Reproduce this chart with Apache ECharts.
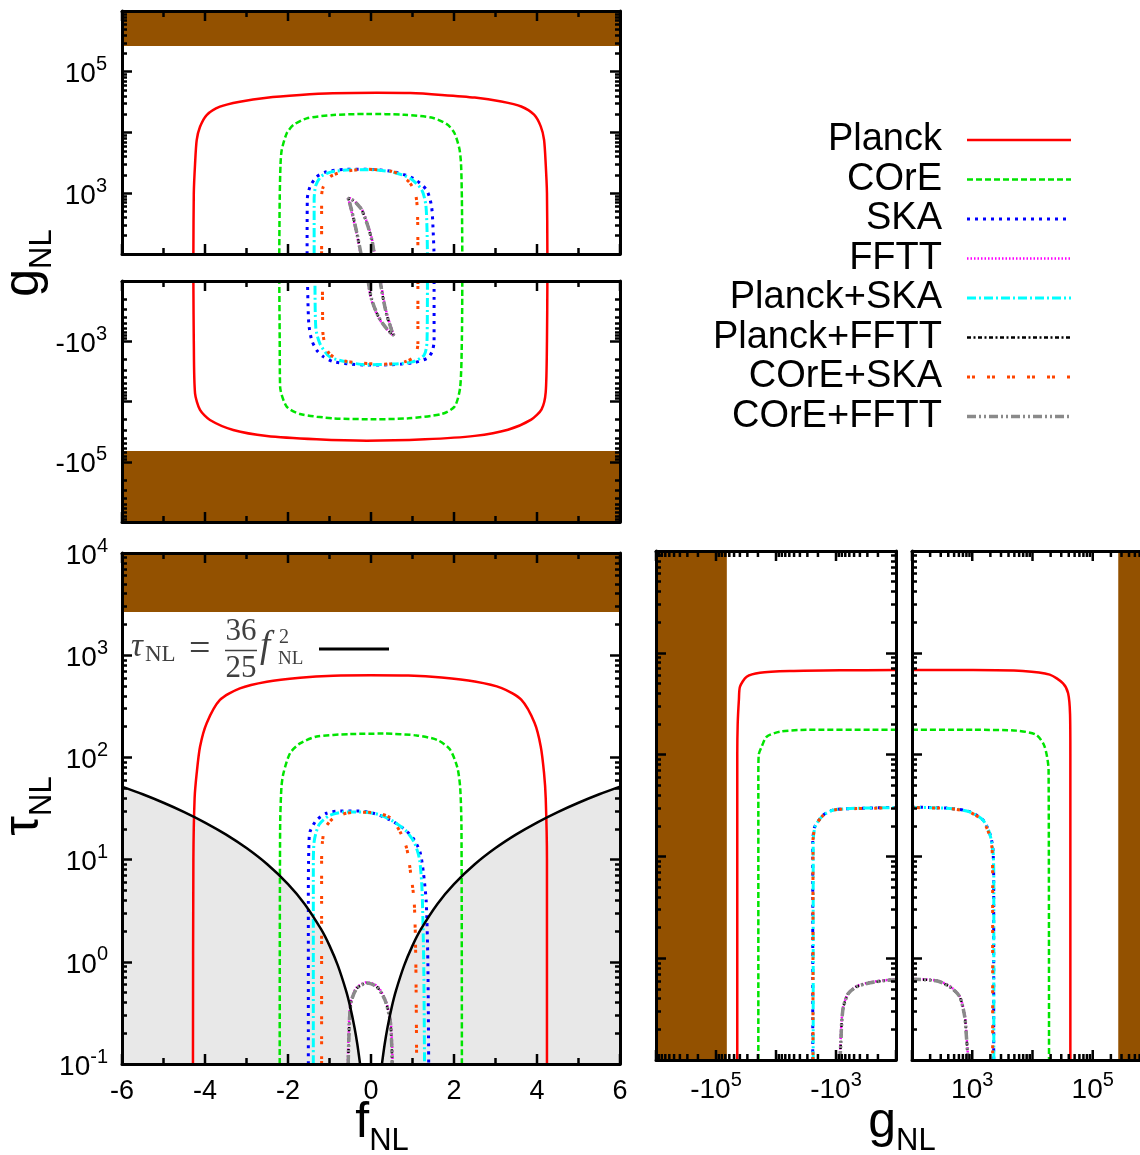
<!DOCTYPE html>
<html>
<head>
<meta charset="utf-8">
<title>fNL, gNL, τNL forecasts</title>
<script src="https://cdn.jsdelivr.net/npm/echarts@6.0.0/dist/echarts.min.js"></script>
<style>
html,body{margin:0;padding:0;background:#fff;overflow:hidden;}
#chart{width:1160px;height:1155px;}
</style>
</head>
<body>
<div id="chart"></div>
<script>
// ---------------- tick values ----------------
const fMajor = [-6, -4, -2, 0, 2, 4, 6];         // fNL ticks with labels
const fMinor = [-5, -3, -1, 1, 3, 5];            // fNL minor ticks
const gDecades = [1e2, 1e3, 1e4, 1e5, 1e6];      // |gNL| decades
const gLabelled = [1e3, 1e5];                    // |gNL| decades carrying a label
const tauDecades = [0.1, 1, 10, 100, 1000, 10000];

// ---------------- excluded regions ----------------
const gNLUpperBound = 2.65e5;   // gNL above this is excluded
const gNLLowerBound = -6.6e4;   // gNL below this is excluded
const tauNLUpperBound = 2650;   // tauNL above this is excluded

// ---------------- fNL–gNL plane: [fNL, gNL] ----------------
const fgPlanck = [
  [-4.28,100],[-4.27,1000],[-4.24,3000],[-4.20,7500],[-4.12,12400],[-3.96,19400],[-3.64,26600],[-3.16,32100],
  [-2.51,37400],[-1.71,41400],[-0.92,44200],[0.14,45200],[0.95,44600],[1.70,41600],[2.50,37600],[3.14,32300],
  [3.62,26800],[3.93,19600],[4.09,12600],[4.17,7600],[4.21,3000],[4.24,1000],[4.25,100],
  [4.25,-100],[4.24,-1000],[4.21,-7000],[4.11,-13500],[3.86,-20000],[3.30,-29400],[2.50,-37200],[1.30,-42400],
  [-0.10,-44800],[-1.31,-42400],[-2.51,-37400],[-3.32,-29700],[-3.88,-20300],[-4.12,-13800],[-4.24,-7300],
  [-4.27,-1000],[-4.28,-100]
];
const fgCOrE = [
  [-2.21,100],[-2.20,800],[-2.18,3000],[-2.15,5200],[-2.03,9700],[-1.87,13300],[-1.55,17100],[-0.91,19400],
  [-0.10,20200],[0.80,19600],[1.50,17300],[1.84,13500],[2.01,9800],[2.13,5400],[2.17,3000],[2.19,800],[2.20,100],
  [2.20,-100],[2.19,-900],[2.15,-5700],[2.02,-12000],[1.72,-16000],[0.90,-19000],[0.10,-19700],[-0.91,-19000],
  [-1.71,-16100],[-2.03,-12200],[-2.19,-5700],[-2.20,-900],[-2.21,-100]
];
const fgSKA = [
  [-1.54,100],[-1.535,800],[-1.47,1280],[-1.31,1870],[-1.07,2260],[-0.59,2480],[-0.10,2480],[0.54,2260],
  [1.02,1760],[1.34,1130],[1.46,600],[1.50,220],[1.52,100],
  [1.52,-100],[1.52,-1000],[1.47,-1500],[1.36,-1900],[1.05,-2250],[0.50,-2450],[-0.10,-2480],[-0.51,-2390],
  [-0.91,-2180],[-1.15,-1800],[-1.31,-1400],[-1.43,-950],[-1.50,-500],[-1.53,-100]
];
const fgFFTT = [
  [-0.25,100],[-0.35,220],[-0.44,410],[-0.52,690],[-0.56,845],[-0.50,820],[-0.42,760],[-0.32,660],[-0.21,530],
  [-0.06,281],[0.03,170],[0.08,110],[0.09,100],
  [-0.08,-100],[0.01,-207],[0.17,-392],[0.33,-573],[0.50,-770],[0.56,-810],[0.52,-700],[0.48,-573],[0.40,-392],
  [0.31,-207],[0.23,-100]
];
const fgPlanckSKA = [
  [-1.37,100],[-1.37,800],[-1.33,1350],[-1.20,1900],[-0.95,2250],[-0.50,2430],[-0.10,2450],[0.50,2250],
  [0.95,1750],[1.22,1150],[1.32,650],[1.35,250],[1.36,100],
  [1.36,-100],[1.35,-1000],[1.28,-1700],[1.00,-2200],[0.50,-2400],[-0.10,-2450],[-0.60,-2200],[-1.00,-1800],
  [-1.23,-1100],[-1.33,-600],[-1.35,-100]
];
const fgPlanckFFTT = [
  [-0.24,100],[-0.34,220],[-0.43,410],[-0.51,680],[-0.55,830],[-0.50,810],[-0.43,760],[-0.33,660],[-0.22,530],
  [-0.07,281],[0.02,170],[0.07,110],[0.08,100],
  [-0.07,-100],[0.02,-207],[0.18,-392],[0.34,-573],[0.50,-760],[0.55,-800],[0.51,-700],[0.47,-573],[0.39,-392],
  [0.30,-207],[0.22,-100]
];
const fgCOrESKA = [
  [-1.19,100],[-1.19,900],[-1.15,1280],[-0.99,1870],[-0.67,2260],[-0.10,2480],[0.50,2300],[0.70,2000],
  [0.93,1500],[1.07,1000],[1.12,500],[1.13,100],
  [1.13,-100],[1.13,-1100],[1.05,-1800],[0.80,-2200],[0.30,-2400],[-0.25,-2300],[-0.75,-2050],[-0.99,-1650],
  [-1.10,-1200],[-1.16,-700],[-1.17,-100]
];
const fgCOrEFFTT = [
  [-0.24,100],[-0.34,220],[-0.43,410],[-0.51,680],[-0.55,830],[-0.50,810],[-0.43,760],[-0.33,660],[-0.22,530],
  [-0.07,281],[0.02,170],[0.07,110],[0.08,100],
  [-0.07,-100],[0.02,-207],[0.18,-392],[0.34,-573],[0.50,-760],[0.55,-800],[0.51,-700],[0.47,-573],[0.39,-392],
  [0.30,-207],[0.22,-100]
];

// ---------------- fNL–tauNL plane: [fNL, tauNL] ----------------
const ftPlanck = [
  [-4.29,0.1],[-4.28,10],[-4.25,40],[-4.20,70],[-4.12,127],[-3.96,216],[-3.64,365],[-3.16,474],[-2.51,551],
  [-1.71,603],[-0.91,631],[0.00,638],[0.90,632],[1.70,604],[2.50,552],[3.15,476],[3.62,367],[3.94,218],
  [4.09,128],[4.17,70],[4.21,40],[4.24,10],[4.24,0.1]
];
const ftCOrE = [
  [-2.20,0.1],[-2.19,20],[-2.16,50],[-2.11,70],[-1.95,110],[-1.71,137],[-1.31,160],[-0.51,169],[0.30,171],
  [1.10,164],[1.60,148],[1.90,120],[2.08,80],[2.15,50],[2.18,20],[2.19,0.1]
];
const ftSKA = [
  [-1.51,0.1],[-1.51,5],[-1.50,12],[-1.47,18.7],[-1.31,24.4],[-1.07,28.4],[-0.75,29.9],[-0.34,29.9],[0.06,28.4],
  [0.46,24.4],[0.78,20.2],[1.02,16.1],[1.18,11.9],[1.26,7.6],[1.33,3.9],[1.37,1],[1.39,0.1]
];
const ftFFTT = [
  [-0.56,0.1],[-0.54,0.2],[-0.52,0.31],[-0.48,0.42],[-0.35,0.56],[-0.10,0.63],[0.15,0.58],[0.35,0.42],
  [0.47,0.27],[0.51,0.15],[0.52,0.1]
];
const ftPlanckSKA = [
  [-1.39,0.1],[-1.39,8],[-1.37,15],[-1.25,22],[-1.00,27],[-0.60,29.3],[-0.20,29.3],[0.20,27.5],[0.55,23.5],
  [0.85,19],[1.05,14.5],[1.17,10],[1.23,5],[1.27,1],[1.29,0.1]
];
const ftPlanckFFTT = [
  [-0.55,0.1],[-0.53,0.2],[-0.51,0.31],[-0.47,0.42],[-0.34,0.55],[-0.10,0.62],[0.14,0.57],[0.34,0.42],
  [0.46,0.27],[0.50,0.15],[0.51,0.1]
];
const ftCOrESKA = [
  [-1.19,0.1],[-1.19,10],[-1.17,15],[-1.11,20.2],[-0.91,25.4],[-0.59,28.4],[-0.27,29.1],[0.14,28.6],[0.46,25.7],
  [0.70,18.7],[0.86,12.9],[0.94,8.2],[1.04,3.9],[1.08,1],[1.10,0.1]
];
const ftCOrEFFTT = [
  [-0.55,0.1],[-0.53,0.2],[-0.51,0.31],[-0.47,0.42],[-0.34,0.55],[-0.10,0.62],[0.14,0.57],[0.34,0.42],
  [0.46,0.27],[0.50,0.15],[0.51,0.1]
];

// ---------------- gNL–tauNL plane: [gNL, tauNL] ----------------
const gtPlanck = [
  [-44200,0.1],[-44200,100],[-43500,200],[-41500,350],[-39800,465],[-30800,582],[-18500,638],[-5850,662],
  [-858,673],[-100,676],[100,676],[1030,676],[6950,662],[19300,610],[32100,501],[39000,400],[42000,250],
  [42500,100],[42500,0.1]
];
const gtCOrE = [
  [-19700,0.1],[-19700,60],[-19400,100],[-17300,120],[-14300,150],[-8570,168],[-3080,175],[-239,175],[-100,175],
  [100,175],[1070,175],[5400,172],[11600,156],[15900,120],[18500,70],[18800,0.1]
];
const gtSKA = [
  [-2440,0.1],[-2440,14],[-2300,19],[-2100,21.1],[-1630,25.5],[-1110,28.6],[-452,29.6],[-100,30.3],
  [100,30.5],[423,29.7],[908,27.5],[1510,22.8],[1950,16.9],[2200,12],[2270,5],[2270,0.1]
];
const gtFFTT = [
  [-870,0.1],[-840,0.15],[-812,0.23],[-762,0.33],[-630,0.45],[-455,0.53],[-272,0.58],[-126,0.615],[-100,0.617],
  [100,0.625],[254,0.605],[426,0.53],[622,0.42],[756,0.27],[806,0.17],[858,0.1]
];
const gtPlanckSKA = [
  [-2400,0.1],[-2400,14],[-2270,19],[-2060,21.5],[-1600,25.6],[-1090,28.6],[-440,29.7],[-100,30.2],
  [100,30.3],[430,29.6],[900,27.4],[1500,22.8],[1940,16.9],[2220,11],[2280,5],[2280,0.1]
];
const gtPlanckFFTT = [
  [-858,0.1],[-830,0.15],[-804,0.23],[-755,0.33],[-624,0.45],[-452,0.525],[-271,0.574],[-126,0.61],[-100,0.612],
  [100,0.62],[254,0.60],[423,0.525],[617,0.42],[750,0.266],[800,0.17],[851,0.1]
];
const gtCOrESKA = [
  [-2420,0.1],[-2420,14],[-2280,19],[-2080,21.3],[-1620,25.4],[-1100,28.5],[-450,29.5],[-100,30.0],
  [100,30.2],[420,29.5],[900,27.2],[1480,22.6],[1900,16.7],[2130,12],[2180,5],[2180,0.1]
];
const gtCOrEFFTT = [
  [-858,0.1],[-830,0.15],[-804,0.23],[-755,0.33],[-624,0.45],[-452,0.525],[-271,0.574],[-126,0.61],[-100,0.612],
  [100,0.62],[254,0.60],[423,0.525],[617,0.42],[750,0.266],[800,0.17],[851,0.1]
];

// ---------------- tauNL = 36/25 fNL^2 boundary ----------------
const boundLeft = [
  [-6,51.84],[-5.5,43.56],[-5,36],[-4.5,29.16],[-4,23.04],[-3.5,17.64],[-3,12.96],[-2.5,9],[-2,5.76],
  [-1.6,3.6864],[-1.2,2.0736],[-1,1.44],[-0.8,0.9216],[-0.6,0.5184],[-0.5,0.36],[-0.4,0.2304],[-0.33,0.1568],
  [-0.2635,0.1]
];
const boundRight = [
  [0.2635,0.1],[0.33,0.1568],[0.4,0.2304],[0.5,0.36],[0.6,0.5184],[0.8,0.9216],[1,1.44],[1.2,2.0736],
  [1.6,3.6864],[2,5.76],[2.5,9],[3,12.96],[3.5,17.64],[4,23.04],[4.5,29.16],[5,36],[5.5,43.56],[6,51.84]
];

// ---------------- experiments and their line styles ----------------
const experiments = [
  {name:'Planck',      color:'#ff0000', width:2.5, dash:'solid',           fg:fgPlanck,     ft:ftPlanck,     gt:gtPlanck},
  {name:'COrE',        color:'#00e400', width:2.5, dash:[6,3],             fg:fgCOrE,       ft:ftCOrE,       gt:gtCOrE},
  {name:'SKA',         color:'#0000ff', width:3,   dash:[3,5],             fg:fgSKA,        ft:ftSKA,        gt:gtSKA},
  {name:'FFTT',        color:'#ff00ff', width:2.5, dash:[1.5,2],           fg:fgFFTT,       ft:ftFFTT,       gt:gtFFTT},
  {name:'Planck+SKA',  color:'#00ffff', width:3,   dash:[9,3,2,3],         fg:fgPlanckSKA,  ft:ftPlanckSKA,  gt:gtPlanckSKA},
  {name:'Planck+FFTT', color:'#000000', width:2.5, dash:[4,2.5,2,2.5],     fg:fgPlanckFFTT, ft:ftPlanckFFTT, gt:gtPlanckFFTT},
  {name:'COrE+SKA',    color:'#ff4500', width:3,   dash:[3,2,3,12],        fg:fgCOrESKA,    ft:ftCOrESKA,    gt:gtCOrESKA},
  {name:'COrE+FFTT',   color:'#8a8a8a', width:3.5, dash:[9,3,2,3,2,3],     fg:fgCOrEFFTT,   ft:ftCOrEFFTT,   gt:gtCOrEFFTT}
];

const FONT = '"Liberation Sans", Arial, Helvetica, sans-serif';
const SERIF = '"Liberation Serif", "DejaVu Serif", serif';
const BROWN = '#935100';
const FILL = '#e8e8e8';

// ---------------- panels ----------------
const grids = [
  {left:122, top:11,  width:498, height:243},  // 0: fNL vs gNL > 0
  {left:122, top:281, width:498, height:241},  // 1: fNL vs gNL < 0
  {left:122, top:553, width:498, height:511},  // 2: fNL vs tauNL
  {left:656, top:551, width:240, height:509},  // 3: gNL < 0 vs tauNL
  {left:912, top:551, width:241, height:509}   // 4: gNL > 0 vs tauNL
];

function minorsOf(decades) {
  const out = [];
  for (let i = 0; i < decades.length - 1; i++) {
    for (let k = 2; k <= 9; k++) out.push(+(k * decades[i]).toPrecision(6));
  }
  return out;
}
const expOf = v => Math.round(Math.log10(v));
const RICH = {
  b: {fontSize:28, fontFamily:FONT, color:'#000', lineHeight:34, verticalAlign:'bottom'},
  s: {fontSize:20, fontFamily:FONT, color:'#000', lineHeight:20, verticalAlign:'top'}
};
const fmtPos = v => '{b|10}{s|' + expOf(v) + '}';
const fmtNeg = v => '{b|-10}{s|' + expOf(v) + '}';

const axLine = () => ({show:true, onZero:false, lineStyle:{color:'#000', width:3}});
const tick = (len, values) => ({show:true, inside:true, length:len, customValues:values,
                                lineStyle:{color:'#000', width:2.5}});

// horizontal fNL axis: line and labels (its ticks come from the tick series below)
function fAxis(gi, position, labels) {
  return {type:'value', gridIndex:gi, position, min:-6, max:6, interval:2, z:10,
    axisLine:axLine(), axisTick:{show:false}, splitLine:{show:false},
    axisLabel: labels
      ? {show:true, customValues:fMajor, color:'#000', fontSize:27, fontFamily:FONT, margin:14}
      : {show:false}};
}
// horizontal |gNL| log axis: line and labels
function gAxis(gi, position, opts) {
  opts = opts || {};
  return {type:'log', logBase:10, gridIndex:gi, position, min:1e2, max:1e6, inverse:!!opts.inverse, z:10,
    axisLine:axLine(), axisTick:{show:false}, splitLine:{show:false},
    axisLabel: opts.labels
      ? {show:true, customValues:opts.labels, formatter:opts.fmt, margin:10, rich:RICH}
      : {show:false}};
}
// vertical log axis with decade ticks plus an overlaid minor-tick axis
function logAxes(gi, position, decades, opts) {
  opts = opts || {};
  const base = () => ({type:'log', logBase:10, gridIndex:gi, position, min:decades[0], max:decades[decades.length-1],
                       inverse:!!opts.inverse, z:10, splitLine:{show:false}});
  const major = Object.assign(base(), {
    axisLine:axLine(), axisTick:tick(10, decades),
    axisLabel: opts.labels
      ? {show:true, customValues:opts.labels, formatter:opts.fmt, margin:opts.margin || 8, rich:RICH}
      : {show:false}
  });
  const minor = Object.assign(base(), {
    axisLine:{show:false, onZero:false}, axisTick:tick(5, minorsOf(decades)), axisLabel:{show:false}
  });
  return [major, minor];
}

const xAxes = [], yAxes = [], XI = [], YI = [];
function addX(list) { XI.push(xAxes.length); list.forEach(a => xAxes.push(a)); }
function addY(list) { YI.push(yAxes.length); list.forEach(a => yAxes.push(a)); }

// panel 0
addX([fAxis(0,'bottom',false), fAxis(0,'top',false)]);
addY([...logAxes(0,'left',gDecades,{labels:gLabelled, fmt:fmtPos, margin:15}), ...logAxes(0,'right',gDecades)]);
// panel 1
addX([fAxis(1,'bottom',false), fAxis(1,'top',false)]);
addY([...logAxes(1,'left',gDecades,{inverse:true, labels:gLabelled, fmt:fmtNeg, margin:15}), ...logAxes(1,'right',gDecades,{inverse:true})]);
// panel 2
addX([fAxis(2,'bottom',true), fAxis(2,'top',false)]);
addY([...logAxes(2,'left',tauDecades,{labels:tauDecades, fmt:fmtPos, margin:14}), ...logAxes(2,'right',tauDecades)]);
// panel 3
addX([gAxis(3,'bottom',{inverse:true, labels:gLabelled, fmt:fmtNeg}), gAxis(3,'top',{inverse:true})]);
addY([...logAxes(3,'left',tauDecades), ...logAxes(3,'right',tauDecades)]);
// panel 4
addX([gAxis(4,'bottom',{labels:gLabelled, fmt:fmtPos}), gAxis(4,'top')]);
addY([...logAxes(4,'left',tauDecades), ...logAxes(4,'right',tauDecades)]);

// ---------------- series ----------------
const series = [];
const onPanel = (gi, extra) => Object.assign({
  type:'line', xAxisIndex:XI[gi], yAxisIndex:YI[gi], symbol:'none', showSymbol:false,
  silent:true, animation:false, clip:true
}, extra);

// excluded (brown) regions
function brownBox(gi, a, b) {
  series.push(onPanel(gi, {data:[], z:1,
    markArea:{silent:true, itemStyle:{color:BROWN, opacity:1, borderWidth:0},
              data:[[{coord:a}, {coord:b}]]}}));
}
brownBox(0, [-6, gNLUpperBound], [6, 1e6]);
brownBox(1, [-6, -gNLLowerBound], [6, 1e6]);
brownBox(2, [-6, tauNLUpperBound], [6, 1e4]);
brownBox(3, [-gNLLowerBound, 0.1], [1e6, 1e4]);
brownBox(4, [gNLUpperBound, 0.1], [1e6, 1e4]);

// shaded region under tauNL = 36/25 fNL^2
[boundLeft, boundRight].forEach(d => series.push(onPanel(2, {
  data:d, z:1, smooth:0.3, lineStyle:{opacity:0, width:0},
  areaStyle:{color:FILL, opacity:1, origin:'start'}
})));

// contours
experiments.forEach(e => {
  const ls = {color:e.color, width:e.width, type:e.dash};
  const mk = (gi, data) => series.push(onPanel(gi, {name:e.name, data, z:2, smooth:0.25, lineStyle:ls}));
  mk(0, e.fg.filter(p => p[1] > 0));
  mk(1, e.fg.filter(p => p[1] < 0).map(p => [p[0], -p[1]]));
  mk(2, e.ft);
  mk(3, e.gt.filter(p => p[0] < 0).map(p => [-p[0], p[1]]));
  mk(4, e.gt.filter(p => p[0] > 0));
});

// tauNL = 36/25 fNL^2 boundary line
[boundLeft, boundRight].forEach(d => series.push(onPanel(2, {
  data:d, z:3, smooth:0.3, lineStyle:{color:'#000', width:2.5, type:'solid'}
})));

// inward tick marks on the bottom and top edges of each panel, placed through the x scale
function edgeTicks(gi, majors, minors, yRef) {
  const data = majors.map(v => [v, yRef, 10]).concat(minors.map(v => [v, yRef, 6]));
  series.push({
    type:'custom', coordinateSystem:'cartesian2d', xAxisIndex:XI[gi], yAxisIndex:YI[gi],
    data, encode:{x:0, y:1}, z:9, silent:true, animation:false, clip:false,
    renderItem(params, api) {
      const cs = params.coordSys;
      const x = api.coord([api.value(0), api.value(1)])[0];
      const len = api.value(2);
      const st = {stroke:'#000', lineWidth:2.5};
      return {type:'group', children:[
        {type:'line', shape:{x1:x, y1:cs.y + cs.height, x2:x, y2:cs.y + cs.height - len}, style:st},
        {type:'line', shape:{x1:x, y1:cs.y, x2:x, y2:cs.y + len}, style:st}
      ]};
    }
  });
}
edgeTicks(0, fMajor, fMinor, 1e3);
edgeTicks(1, fMajor, fMinor, 1e3);
edgeTicks(2, fMajor, fMinor, 1);
edgeTicks(3, gDecades, minorsOf(gDecades), 1);
edgeTicks(4, gDecades, minorsOf(gDecades), 1);

// ---------------- texts: axis titles, legend, relation label ----------------
const graphic = [];
function title(x, y, main, rot) {
  graphic.push({type:'text', x, y, rotation:rot || 0, z:20, silent:true,
    style:{text:'{a|' + main + '}{b|NL}', align:'center', verticalAlign:'middle',
      rich:{
        a:{fontSize:50, fontFamily:FONT, fill:'#000', lineHeight:50, verticalAlign:'bottom', padding:[0,0,9,0]},
        b:{fontSize:31, fontFamily:FONT, fill:'#000', lineHeight:31, verticalAlign:'bottom'}
      }}});
}
title(33, 263, 'g', Math.PI / 2);
title(33, 806, 'τ', Math.PI / 2);
title(382, 1132, 'f', 0);
title(902, 1132, 'g', 0);

// legend
const legendRows = [140, 179.5, 219, 258.5, 298, 337.5, 377, 416.5];
experiments.forEach((e, i) => {
  const y = legendRows[i];
  graphic.push({type:'text', x:942, y, z:20, silent:true,
    style:{text:e.name, fill:'#000', fontSize:38, fontFamily:FONT, align:'right', verticalAlign:'middle'}});
  graphic.push({type:'line', z:20, silent:true, shape:{x1:967, y1:y, x2:1071, y2:y},
    style:{stroke:e.color, lineWidth:e.width, lineDash:e.dash === 'solid' ? null : e.dash}});
});

// relation label: tauNL = 36/25 fNL^2
const EQ = '#404040';
function eqText(x, y, text, size, italic, align) {
  graphic.push({type:'text', x, y, z:20, silent:true,
    style:{text, fill:EQ, fontSize:size, fontFamily:SERIF, fontStyle:italic ? 'italic' : 'normal',
           align:align || 'left', verticalAlign:'middle'}});
}
eqText(131, 647, 'τ', 33, true);
eqText(145, 655, 'NL', 23, false);
eqText(189, 650, '=', 38, false);
eqText(241, 632, '36', 31, false, 'center');
eqText(241, 669, '25', 31, false, 'center');
graphic.push({type:'line', z:20, silent:true, shape:{x1:225, y1:650.5, x2:257, y2:650.5}, style:{stroke:EQ, lineWidth:1.5}});
eqText(260, 647, 'f', 37, true);
eqText(279, 638, '2', 20, false);
eqText(278, 659, 'NL', 19, false);
graphic.push({type:'line', z:20, silent:true, shape:{x1:319, y1:649, x2:389, y2:649}, style:{stroke:'#000', lineWidth:3}});

const chart = echarts.init(document.getElementById('chart'), null, {renderer:'canvas'});
chart.setOption({
  animation:false,
  backgroundColor:'#ffffff',
  textStyle:{fontFamily:FONT},
  grid:grids.map(g => Object.assign({containLabel:false, show:false}, g)),
  xAxis:xAxes,
  yAxis:yAxes,
  series,
  graphic
});
</script>
</body>
</html>
